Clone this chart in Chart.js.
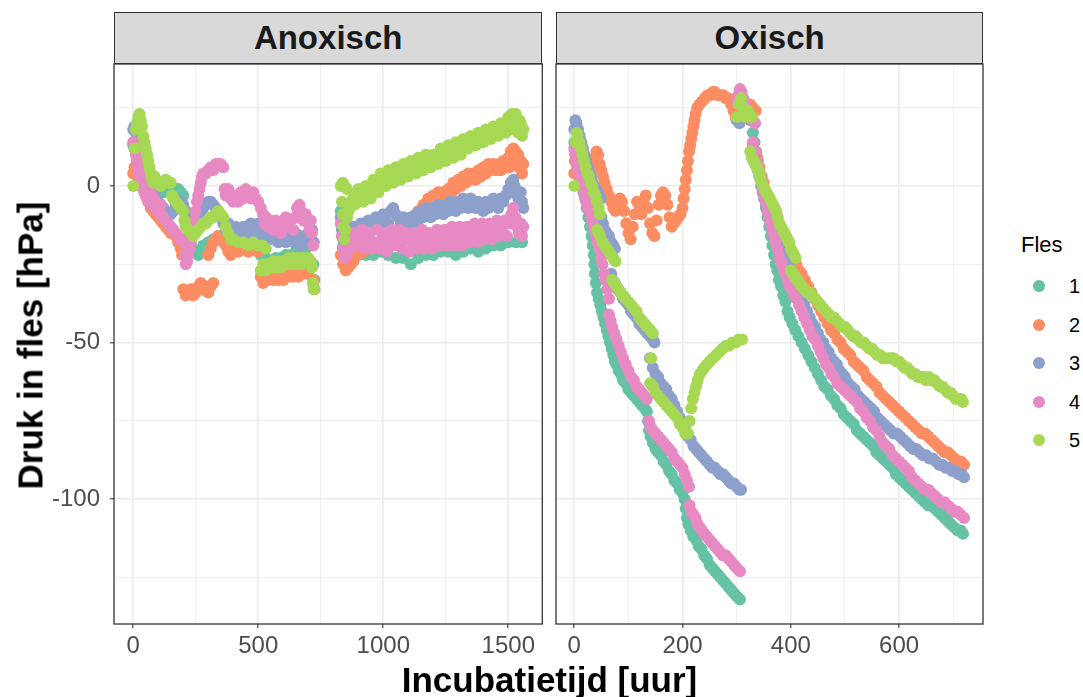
<!DOCTYPE html>
<html><head><meta charset="utf-8">
<script src="https://cdn.jsdelivr.net/npm/chart.js@4.4.1/dist/chart.umd.min.js"></script>
<style>
html,body{margin:0;padding:0;background:#fff;}
body{width:1083px;height:697px;position:relative;overflow:hidden;font-family:"Liberation Sans",Arial,Helvetica,sans-serif;}
canvas{position:absolute;top:0;}
.strip{position:absolute;top:12px;height:52px;box-sizing:border-box;border:1.3px solid #333;background:#D9D9D9;display:flex;align-items:center;justify-content:center;font-weight:bold;font-size:33px;color:#1A1A1A;}
.title{position:absolute;font-weight:bold;font-size:35px;line-height:35px;height:35px;text-align:center;color:#000;white-space:nowrap;}
.lg{position:absolute;color:#000;white-space:nowrap;}
.dot{position:absolute;width:12px;height:12px;border-radius:50%;}
</style></head>
<body>
<canvas id="cA" width="549" height="697" style="left:0"></canvas>
<canvas id="cB" width="440" height="697" style="left:549px"></canvas>
<div id="overlay"></div>
<script>
// ---- categories / labels ----
const panels = ["Anoxisch", "Oxisch"];
const flessen = ["1", "2", "3", "4", "5"];
const colors = ["#66C2A5", "#FC8D62", "#8DA0CB", "#E78AC3", "#A6D854"];
const xTitle = "Incubatietijd [uur]";
const yTitle = "Druk in fles [hPa]";
const legendTitle = "Fles";

// ---- tick values ----
const anoxXTicks = [0, 250, 500, 750, 1000, 1250, 1500];
const anoxXLabels = [0, 500, 1000, 1500];
const oxXTicks = [0, 100, 200, 300, 400, 500, 600, 700];
const oxXLabels = [0, 200, 400, 600];
const yTicks = [25, 0, -25, -50, -75, -100, -125];
const yLabels = [0, -50, -100];

// ---- data: [incubatietijd (uur), druk (hPa)] ----
const anox1 = [[0,13],[10,11],[20,9],[30,7],[40,5],[50,3],[60,1],[70,0],[80,-1],[90,-2],[100,-2],[110,-1],[120,-2],[130,-1],[140,-1],[150,-1],[160,-1],[170,-1],[180,-1],[190,-2],[200,-3],[210,-10],[220,-16],[230,-19],[240,-20],[250,-21],[260,-22],[270,-21],[280,-19],[300,-18],[320,-17],[340,-16],[360,-16],[380,-17],[400,-17],[430,-18],[460,-18],[490,-18],[510,-22],[530,-23],[550,-24],[570,-23],[590,-23],[610,-22],[630,-22],[650,-21],[670,-21],[690,-20],[710,-18],[720,-25],[725,-30],
[830,-8],[835,-14],[840,-19],[850,-22],[870,-21],[900,-21],[930,-22],[960,-22],[990,-21],[1020,-22],[1050,-23],[1080,-23],[1110,-25],[1140,-23],[1170,-22],[1200,-22],[1230,-21],[1260,-21],[1290,-22],[1320,-21],[1350,-20],[1380,-21],[1410,-20],[1440,-19],[1470,-19],[1500,-18],[1530,-18],[1555,-18]];
const anox2 = [[0,4],[5,6],[10,5],[15,4],[20,3],[30,1],[40,-1],[50,-3],[60,-5],[70,-7],[80,-8],[90,-9],[100,-10],[110,-11],[120,-12],[130,-13],[140,-14],[150,-15],[160,-15],[170,-16],[180,-18],[190,-20],[195,-22],
[200,-33],[210,-35],[220,-34],[230,-33],[240,-35],[250,-34],[260,-32],[270,-31],[280,-33],[290,-32],[300,-34],[310,-32],[320,-31],
[300,-22],[310,-20],[320,-18],[330,-17],[340,-16],[350,-17],[360,-18],[370,-19],[380,-21],[390,-22],[400,-21],[410,-20],[420,-21],[440,-20],[460,-21],[480,-20],[500,-21],
[510,-29],[520,-31],[530,-29],[540,-30],[550,-29],[560,-30],[570,-29],[580,-30],[590,-28],[600,-30],[610,-28],[620,-29],[630,-28],[640,-29],[650,-27],[660,-29],[670,-27],[680,-28],[690,-27],[700,-28],[710,-26],[720,-30],[725,-33],
[830,-22],[840,-25],[850,-27],[860,-26],[870,-25],[880,-24],[900,-22],[920,-21],[950,-20],[980,-19],[1010,-18],[1040,-17],[1070,-16],[1090,-14],[1100,-12],[1110,-14],[1120,-10],[1130,-12],[1140,-8],[1150,-10],[1160,-6],[1170,-8],[1180,-4],[1190,-6],[1200,-3],[1210,-5],[1220,-2],[1230,-4],[1240,-2],[1250,-4],[1260,-1],[1270,-3],[1280,1],[1290,-1],[1300,2],[1310,0],[1320,3],[1330,1],[1340,4],[1350,2],[1360,4],[1370,2],[1380,5],[1390,3],[1400,6],[1410,4],[1420,7],[1430,5],[1440,7],[1450,5],[1460,7],[1470,5],[1480,8],[1490,6],[1500,9],[1505,6],[1510,11],[1515,8],[1520,12],[1525,9],[1530,11],[1535,8],[1540,10],[1545,6],[1550,8],[1555,4],[1560,7]];
const anox3 = [[0,18],[5,19],[10,17],[20,14],[30,11],[40,8],[50,6],[60,4],[70,1],[80,-2],[90,-4],[100,-5],[110,-6],[120,-7],[130,-8],[140,-9],[150,-9],[160,-8],[170,-6],[180,-5],[190,-5],[200,-6],[210,-8],[220,-11],[230,-14],[240,-15],[250,-13],[260,-10],[270,-8],[280,-7],[290,-6],[300,-5],[310,-5],[320,-6],[330,-7],[340,-8],
[350,-10],[360,-12],[370,-14],[380,-12],[390,-15],[400,-17],[410,-13],[420,-16],[430,-17],[440,-13],[450,-15],[460,-16],[470,-12],[480,-14],[490,-16],[500,-12],[510,-14],[520,-16],[530,-13],[540,-15],[550,-17],[560,-14],[570,-16],[580,-18],[590,-15],[600,-17],[610,-18],[620,-15],[630,-17],[640,-18],[650,-15],[660,-17],[670,-19],[680,-16],[690,-18],[700,-15],[710,-17],[715,-14],[722,-18],
[830,-10],[835,-14],[840,-17],[850,-18],[860,-15],[870,-17],[880,-13],[890,-15],[900,-16],[910,-12],[920,-14],[930,-15],[940,-11],[950,-13],[960,-14],[970,-10],[980,-12],[990,-13],[1000,-9],[1010,-11],[1020,-12],[1030,-8],[1040,-7],[1050,-9],[1060,-10],[1070,-12],[1080,-10],[1090,-12],[1100,-13],[1110,-10],[1120,-12],[1130,-9],[1140,-11],[1150,-8],[1160,-10],[1170,-7],[1180,-9],[1190,-10],[1200,-7],[1210,-9],[1220,-6],[1230,-8],[1240,-9],[1250,-6],[1260,-8],[1270,-5],[1280,-7],[1290,-8],[1300,-5],[1310,-7],[1320,-4],[1330,-6],[1340,-7],[1350,-4],[1360,-6],[1370,-7],[1380,-5],[1390,-7],[1400,-8],[1410,-5],[1420,-7],[1430,-6],[1440,-4],[1450,-6],[1460,-7],[1470,-4],[1480,-5],[1490,-3],[1500,-1],[1510,1],[1515,-2],[1520,2],[1525,0],[1530,-2],[1540,-4],[1550,-2],[1555,-5],[1560,-7]];
const anox4 = [[0,14],[5,12],[10,10],[15,8],[20,6],[25,4],[30,2],[35,0],[40,-1],[45,-2],[50,-3],[55,-4],[60,-5],[70,-6],[80,-6],[90,-7],[100,-8],[110,-9],[120,-10],[130,-11],[140,-12],[150,-13],[160,-14],[170,-15],[180,-16],[190,-17],[200,-18],
[20,10],[30,8],[40,6],[50,4],[60,2],[65,0],[70,-2],[80,-4],[90,-5],[100,-7],[110,-6],
[205,-22],[210,-25],[215,-24],[220,-22],[225,-20],[230,-18],[235,-16],[240,-14],[245,-11],[250,-8],[255,-5],[260,-3],[265,-1],[270,1],[275,3],[280,4],[290,4],[300,5],[310,6],[320,5],[330,7],[340,7],[350,7],[360,6],
[365,-1],[370,-3],[380,-1],[390,-4],[400,-5],[410,-3],[420,-5],[430,-2],[440,-4],[450,-1],[460,-3],[470,-4],[480,-2],[490,-4],[500,-5],[510,-7],[520,-9],[525,-12],[530,-10],[540,-13],[550,-11],[560,-14],[570,-11],[580,-13],[590,-15],[600,-12],[610,-10],[620,-13],[630,-11],[640,-14],[650,-10],[655,-7],[660,-9],[665,-6],[670,-8],[680,-11],[690,-9],[700,-12],[705,-14],[710,-11],[715,-15],[720,-19],
[830,-12],[834,-16],[838,-20],[845,-23],[855,-22],[865,-20],[875,-18],[885,-15],[895,-19],[905,-17],[915,-14],[925,-20],[935,-17],[945,-15],[955,-20],[965,-18],[975,-14],[985,-20],[995,-17],[1005,-15],[1015,-21],[1025,-18],[1035,-14],[1045,-19],[1055,-16],[1065,-14],[1075,-20],[1085,-17],[1095,-15],[1105,-21],[1115,-18],[1125,-15],[1135,-20],[1145,-17],[1155,-14],[1165,-20],[1175,-17],[1185,-15],[1195,-20],[1205,-17],[1215,-14],[1225,-19],[1235,-16],[1245,-14],[1255,-19],[1265,-16],[1275,-13],[1285,-19],[1295,-16],[1305,-13],[1315,-19],[1325,-16],[1335,-13],[1345,-18],[1355,-15],[1365,-12],[1375,-18],[1385,-15],[1395,-12],[1405,-17],[1415,-15],[1425,-12],[1435,-17],[1445,-14],[1455,-11],[1465,-16],[1475,-13],[1485,-11],[1495,-16],[1505,-12],[1512,-9],[1520,-7],[1528,-10],[1535,-13],[1542,-15],[1550,-12],[1555,-16],[1560,-13]];
const anox5 = [[0,0],[5,12],[10,18],[15,20],[20,22],[25,23],[30,21],[35,19],[40,16],[45,14],[50,12],[55,10],[60,8],[65,6],[70,4],[75,2],[80,1],[85,3],[90,2],[100,1],[110,0],[120,1],[130,2],[140,1],[150,1],[155,-3],[160,-4],[170,-5],[180,-6],[190,-7],[200,-8],[205,-11],[210,-13],[220,-14],[230,-15],[240,-16],[250,-15],[260,-14],[270,-13],[280,-12],[290,-12],[300,-11],[310,-10],[320,-10],[330,-9],[340,-8],[350,-9],[360,-10],[370,-13],[380,-15],[390,-17],[400,-17],[420,-18],[440,-18],[460,-19],[480,-18],[500,-19],[515,-19],[530,-20],
[510,-27],[520,-25],[530,-27],[540,-25],[550,-26],[560,-24],[570,-26],[580,-24],[590,-26],[600,-24],[610,-25],[620,-23],[630,-25],[640,-23],[650,-25],[660,-23],[670,-25],[680,-23],[690,-24],[700,-23],[710,-24],[715,-26],[718,-31],[722,-33],
[830,0],[838,1],[846,0],[855,-1],[835,-5],[838,-9],[841,-13],[844,-17],[848,-14],[855,-10],[862,-8],[870,-6],[878,-4],[886,-6],[894,-3],
[900,-1],[910,-3],[920,-5],[930,0],[940,-2],[950,-4],[960,2],[970,0],[980,-2],[990,4],[1000,2],[1010,0],[1020,5],[1030,3],[1040,1],[1050,6],[1060,4],[1070,2],[1080,7],[1090,5],[1100,3],[1110,8],[1120,6],[1130,4],[1140,9],[1150,7],[1160,5],[1170,10],[1180,8],[1190,6],[1200,10],[1210,8],[1220,7],[1230,12],[1240,10],[1250,8],[1260,13],[1270,11],[1280,9],[1290,14],[1300,12],[1310,10],[1320,15],[1330,13],[1340,12],[1350,16],[1360,14],[1370,13],[1380,17],[1390,15],[1400,14],[1410,18],[1420,16],[1430,15],[1440,19],[1450,17],[1460,16],[1470,20],[1480,18],[1490,17],[1500,22],[1510,20],[1515,23],[1520,18],[1525,21],[1530,23],[1535,19],[1540,17],[1545,21],[1550,20],[1555,16],[1560,18]];

const ox1 = [[0,14],[2,11],[5,8],[8,5],[11,2],[14,0],[17,-2],[20,-4],[23,-7],[26,-10],[29,-13],[32,-16],[34,-19],[36,-22],[37,-25],[38,-28],[40,-31],[42,-34],[45,-36],[48,-38],[51,-40],[54,-42],[57,-44],[60,-46],[63,-48],[66,-50],[69,-52],[72,-54],[75,-56],[78,-57],[82,-59],[86,-60],[90,-62],[95,-63],[100,-65],[105,-66],[110,-67],[115,-68],[120,-69],[125,-70],[130,-71],[134,-72],[136,-75],[138,-78],[141,-80],[145,-82],[150,-84],[155,-85],[160,-86],[165,-88],[170,-89],[175,-91],[180,-92],[185,-94],[190,-95],[195,-97],[200,-98],[204,-100],[206,-103],[208,-106],[211,-108],[215,-110],[220,-112],[225,-113],[230,-115],[235,-116],[240,-118],[245,-119],[250,-121],[255,-122],[260,-123],[265,-124],[270,-125],[275,-126],[280,-127],[285,-128],[290,-129],[295,-130],[300,-131],[306,-132],
[300,23],[305,22],[310,23],[315,24],[320,23],[325,22],
[330,17],[333,14],[336,11],[339,8],[342,5],[345,2],[348,-1],[351,-4],[354,-7],[357,-10],[360,-13],[363,-16],[366,-19],[369,-22],[372,-25],[375,-27],[378,-30],[382,-32],[386,-35],[390,-37],[394,-40],[398,-42],[403,-44],[408,-46],[414,-48],[420,-50],[426,-52],[432,-54],[438,-56],[444,-58],[450,-60],[456,-62],[462,-64],[468,-65],[474,-67],[480,-68],[486,-70],[492,-71],[498,-73],[504,-74],[510,-75],[516,-76],[522,-78],[528,-79],[534,-80],[540,-81],[546,-82],[552,-83],[558,-85],[564,-86],[570,-87],[576,-88],[582,-89],[588,-90],[594,-92],[600,-93],[606,-94],[612,-95],[618,-96],[624,-97],[630,-98],[636,-99],[642,-100],[648,-101],[654,-102],[660,-102],[666,-103],[672,-104],[678,-105],[684,-106],[690,-107],[696,-108],[702,-109],[708,-110],[714,-110],[718,-111]];
const ox2 = [[0,4],[1,8],[2,10],[4,7],[6,5],[9,3],[12,2],[16,1],[20,2],[25,1],[30,3],[35,6],[38,9],[41,11],[44,10],[47,7],[50,5],[53,3],[56,1],[60,-1],[64,-3],[68,-5],[72,-7],[76,-8],[80,-6],[84,-4],[88,-5],[92,-8],[96,-12],[100,-15],[104,-17],[108,-13],[112,-9],[116,-5],[120,-6],[124,-9],[128,-5],[132,-3],[136,-7],[140,-12],[144,-15],[148,-16],[152,-11],[156,-6],[160,-3],[164,-2],[168,-3],[172,-6],[176,-10],[180,-13],[184,-12],[188,-11],[192,-10],[196,-9],[200,-7],[202,-4],[204,-1],[206,2],[208,5],[210,8],[212,11],[214,13],[216,15],[218,17],[220,19],[222,21],[224,23],[227,25],[231,26],[236,27],[241,28],[246,29],[251,29],[256,30],[260,30],[265,29],[270,29],[275,29],[280,28],[285,28],[290,26],[294,24],[298,22],[302,21],[306,21],[310,22],[315,24],[320,26],[325,26],[330,25],[335,24],
[330,13],[334,11],[338,9],[342,6],[346,3],[350,1],[354,-2],[358,-4],[362,-6],[366,-8],[370,-10],[374,-12],[378,-14],[382,-15],[386,-17],[390,-18],[394,-20],[398,-21],[402,-22],[406,-24],[410,-25],[415,-27],[420,-28],[426,-30],[432,-32],[438,-34],[444,-36],[450,-38],[456,-40],[462,-42],[468,-44],[474,-46],[480,-47],[486,-49],[492,-50],[498,-52],[504,-53],[510,-54],[516,-56],[522,-57],[528,-58],[534,-59],[540,-61],[546,-62],[552,-63],[558,-64],[564,-66],[570,-67],[576,-68],[582,-69],[588,-70],[594,-71],[600,-72],[606,-73],[612,-74],[618,-75],[624,-76],[630,-77],[636,-78],[642,-79],[648,-79],[654,-80],[660,-81],[666,-82],[672,-83],[678,-84],[684,-85],[690,-85],[696,-86],[702,-87],[708,-88],[714,-88],[720,-89]];
const ox3 = [[0,18],[2,21],[4,20],[7,18],[10,16],[13,14],[16,12],[19,10],[22,8],[25,6],[28,4],[31,3],[34,1],[37,0],[40,-1],[43,-2],[46,-3],[49,-4],
[50,-10],[53,-12],[56,-14],[60,-15],[64,-16],[68,-18],[72,-19],[75,-20],
[68,-28],[71,-30],[75,-31],[80,-33],[85,-34],[90,-36],[95,-37],[100,-38],[105,-40],[110,-41],[115,-42],[120,-44],[125,-45],[130,-46],[135,-47],[140,-48],[145,-49],[148,-50],
[140,-55],[145,-58],[150,-60],[155,-61],[160,-63],[165,-64],[170,-65],[175,-67],[180,-68],[185,-70],[190,-72],[195,-74],[200,-76],[205,-78],[210,-80],[215,-81],[220,-83],[225,-84],[230,-85],[235,-86],[240,-87],[245,-88],[250,-89],[255,-90],[260,-90],[265,-91],[270,-92],[275,-92],[280,-93],[285,-94],[290,-95],[295,-95],[300,-96],[305,-97],[308,-97],
[300,21],[305,20],[310,22],[315,24],[320,23],[325,21],
[330,12],[333,10],[336,8],[339,5],[342,3],[345,0],[348,-2],[351,-4],[354,-6],[357,-8],[360,-10],[363,-12],[366,-14],[369,-15],[372,-17],[375,-18],[378,-20],[381,-21],[384,-22],[387,-23],[390,-24],[393,-24],[396,-25],[400,-27],[404,-29],[408,-31],[412,-33],[416,-35],[420,-36],[425,-38],[430,-40],[435,-42],[440,-44],[445,-45],[450,-47],[455,-49],[460,-50],[465,-52],[470,-53],[475,-55],[480,-56],[485,-57],[490,-59],[495,-60],[500,-61],[506,-63],[512,-64],[518,-65],[524,-67],[530,-68],[536,-69],[542,-70],[548,-71],[554,-72],[560,-74],[566,-75],[572,-76],[578,-77],[584,-78],[590,-79],[596,-79],[602,-80],[608,-81],[614,-82],[620,-83],[626,-84],[632,-84],[638,-85],[644,-86],[650,-86],[656,-87],[662,-87],[668,-88],[674,-89],[680,-89],[686,-90],[692,-90],[698,-91],[704,-91],[710,-92],[716,-92],[720,-93]];
const ox4 = [[0,12],[2,10],[4,8],[6,6],[8,4],[10,3],[13,1],[16,-1],[19,-3],[22,-5],[25,-7],[28,-8],[31,-10],[34,-12],[37,-14],[40,-16],[43,-18],[46,-20],[49,-23],[52,-25],[55,-28],[58,-30],[61,-33],[64,-36],
[64,-41],[67,-43],[70,-45],[74,-47],[78,-49],[82,-51],[86,-53],[90,-55],[95,-57],[100,-59],[105,-61],[110,-62],[115,-64],[120,-65],[125,-66],[130,-67],[134,-68],
[138,-75],[141,-77],[145,-78],[150,-79],[155,-80],[160,-81],[165,-82],[170,-83],[175,-84],[180,-85],[185,-87],[190,-88],[195,-89],[200,-90],[204,-92],[208,-94],[212,-96],
[213,-102],[216,-104],[220,-105],[224,-106],[228,-108],[232,-109],[236,-110],[240,-111],[245,-112],[250,-113],[255,-114],[260,-115],[265,-116],[270,-117],[275,-118],[280,-118],[285,-119],[290,-120],[295,-121],[300,-122],[306,-123],
[300,27],[303,29],[306,31],[309,30],[312,28],[315,26],[318,25],[322,23],[326,22],[330,21],[334,20],
[330,14],[333,11],[336,8],[339,6],[342,4],[345,2],[348,-1],[351,-3],[354,-5],[357,-8],[360,-10],[363,-12],[366,-14],[369,-16],[372,-18],[375,-20],[378,-22],[381,-24],[384,-25],[387,-27],[390,-28],[394,-30],[398,-32],[402,-33],[406,-35],[410,-36],[415,-38],[420,-40],[425,-42],[430,-44],[435,-46],[440,-48],[445,-49],[450,-51],[455,-53],[460,-55],[465,-57],[470,-58],[475,-60],[480,-61],[486,-63],[492,-64],[498,-65],[504,-66],[510,-67],[516,-68],[522,-69],[528,-71],[534,-72],[540,-74],[546,-75],[552,-77],[558,-78],[564,-80],[570,-82],[576,-83],[582,-84],[588,-86],[594,-87],[600,-88],[606,-89],[612,-90],[618,-91],[624,-93],[630,-94],[636,-95],[642,-96],[648,-97],[654,-97],[660,-98],[666,-99],[672,-100],[678,-101],[684,-101],[690,-102],[696,-103],[702,-104],[708,-104],[714,-105],[720,-106]];
const ox5 = [[0,0],[2,14],[4,17],[6,16],[9,14],[12,12],[15,10],[18,8],[21,6],[24,4],[27,3],[30,1],[33,0],[36,-2],[39,-3],[42,-5],[45,-7],[47,-9],
[42,-14],[45,-15],[48,-16],[52,-18],[56,-19],[60,-20],[64,-21],[68,-22],[72,-23],[76,-24],
[70,-30],[74,-31],[78,-32],[82,-33],[86,-34],[90,-35],[95,-36],[100,-37],[105,-38],[110,-39],[115,-40],[120,-42],[125,-43],[130,-44],[135,-45],[140,-46],[145,-47],
[142,-55],
[140,-63],[145,-64],[150,-66],[155,-67],[160,-68],[165,-69],[170,-70],[175,-71],[180,-72],[185,-73],[190,-74],[195,-76],[200,-77],[205,-79],[210,-79],
[213,-75],[216,-71],[219,-68],[222,-66],[225,-64],[228,-62],[232,-60],[236,-59],[240,-58],[245,-57],[250,-56],[256,-55],[262,-54],[268,-53],[274,-52],[280,-51],[286,-51],[292,-50],[298,-50],[304,-49],[310,-49],
[300,22],[304,26],[308,28],[312,25],[316,22],[320,24],[324,23],[328,22],
[325,11],[328,9],[331,8],[334,7],[337,6],[340,5],[343,3],[346,1],[349,0],[352,-1],[355,-2],[358,-3],[361,-4],[364,-5],[367,-6],[370,-7],[373,-8],[376,-10],[379,-12],[382,-13],[385,-14],[388,-15],[391,-16],[394,-17],[397,-18],[400,-20],[403,-21],[406,-22],[409,-23],
[400,-27],[404,-28],[408,-29],[412,-30],[416,-31],[420,-32],[425,-33],[430,-34],[435,-34],[440,-35],[445,-36],[450,-37],[455,-38],[460,-39],[465,-40],[470,-41],[475,-42],[480,-42],[485,-43],[490,-44],[495,-45],[500,-45],[505,-46],[510,-47],[515,-48],[520,-48],[525,-49],[530,-50],[535,-50],[540,-51],[545,-52],[550,-52],[555,-53],[560,-54],[565,-54],[570,-55],[575,-55],[580,-55],[585,-55],[590,-55],[595,-56],[600,-56],[605,-57],[610,-58],[615,-58],[620,-59],[625,-60],[630,-60],[635,-61],[640,-61],[645,-61],[650,-62],[655,-61],[660,-62],[665,-62],[670,-63],[675,-64],[680,-64],[685,-65],[690,-66],[695,-66],[700,-67],[705,-68],[710,-68],[715,-68],[718,-69]];

const anoxSeries = [anox1, anox2, anox3, anox4, anox5];
const oxSeries = [ox1, ox2, ox3, ox4, ox5];

// ---- chart building ----
const FONT = '"Liberation Sans", Arial, Helvetica, sans-serif';
const Y_MIN = -139.85, Y_MAX = 38.95;

const panelBorder = {
  id: 'panelBorder',
  afterDatasetsDraw(chart) {
    const {ctx, chartArea: a} = chart;
    ctx.save();
    ctx.strokeStyle = '#333333';
    ctx.lineWidth = 1.3;
    ctx.strokeRect(a.left, a.top, a.right - a.left, a.bottom - a.top);
    ctx.restore();
  }
};

function gridOpts(majors, showTicks) {
  return {
    color: '#EBEBEB',
    lineWidth: c => (c.tick && majors.includes(c.tick.value)) ? 1.6 : 0.8,
    drawTicks: showTicks,
    tickLength: 4,
    tickWidth: 1.1,
    tickColor: c => (c.tick && majors.includes(c.tick.value)) ? '#333333' : 'rgba(0,0,0,0)'
  };
}

function makeDatasets(series) {
  return series.map((pts, i) => ({
    label: flessen[i],
    data: pts.map(p => ({x: p[0], y: p[1]})),
    backgroundColor: colors[i],
    borderColor: colors[i],
    borderWidth: 0,
    pointRadius: 6,
    pointHoverRadius: 6,
    pointBorderWidth: 0,
    showLine: false,
    order: flessen.length - 1 - i
  }));
}

function makeChart(id, series, xMin, xMax, xTicks, xLabels, showY, yWidth, padRight) {
  return new Chart(document.getElementById(id), {
    type: 'scatter',
    data: {datasets: makeDatasets(series)},
    plugins: [panelBorder],
    options: {
      responsive: false,
      devicePixelRatio: 1,
      animation: false,
      events: [],
      layout: {padding: {top: 64, left: 0, right: padRight, bottom: 0}},
      plugins: {legend: {display: false}, tooltip: {enabled: false}},
      scales: {
        x: {
          type: 'linear', position: 'bottom', min: xMin, max: xMax,
          afterBuildTicks: s => { s.ticks = xTicks.map(v => ({value: v})); },
          afterFit: s => { s.height = 73; },
          grid: gridOpts(xLabels, true),
          border: {display: false},
          ticks: {
            autoSkip: false, maxRotation: 0, includeBounds: false, padding: 4,
            color: '#4D4D4D', font: {family: FONT, size: 24},
            callback: v => xLabels.includes(v) ? String(v) : ''
          }
        },
        y: {
          type: 'linear', position: 'left', min: Y_MIN, max: Y_MAX,
          afterBuildTicks: s => { s.ticks = yTicks.map(v => ({value: v})); },
          afterFit: s => { s.width = yWidth; },
          grid: gridOpts(yLabels, showY),
          border: {display: false},
          ticks: {
            display: showY, autoSkip: false, includeBounds: false, padding: 10,
            color: '#4D4D4D', font: {family: FONT, size: 24},
            callback: v => yLabels.includes(v) ? String(v) : ''
          }
        }
      }
    }
  });
}

makeChart('cA', anoxSeries, -77, 1636, anoxXTicks, anoxXLabels, true, 114, 549 - 542.3);
makeChart('cB', oxSeries, -33.8, 755, oxXTicks, oxXLabels, false, 7, 440 - 434.3);

// ---- strips, titles, legend (text) ----
const ov = document.getElementById('overlay');
function add(html) { ov.insertAdjacentHTML('beforeend', html); }
add(`<div class="strip" style="left:114px;width:428.3px">${panels[0]}</div>`);
add(`<div class="strip" style="left:556px;width:427.3px">${panels[1]}</div>`);
add(`<div class="title" style="left:349.5px;top:662.4px;width:400px">${xTitle}</div>`);
add(`<div class="title" style="left:-120px;top:327.5px;width:300px;transform:rotate(-90deg)">${yTitle}</div>`);
add(`<div class="lg" style="left:1021px;top:234.4px;font-size:22px;line-height:22px">${legendTitle}</div>`);
const rowY = [286, 324.5, 363, 401.5, 440];
flessen.forEach((f, i) => {
  add(`<div class="dot" style="left:1033.3px;top:${rowY[i]-6}px;background:${colors[i]}"></div>`);
  add(`<div class="lg" style="left:1069px;top:${rowY[i]-9.7}px;font-size:20px;line-height:20px">${f}</div>`);
});
</script>
</body></html>
